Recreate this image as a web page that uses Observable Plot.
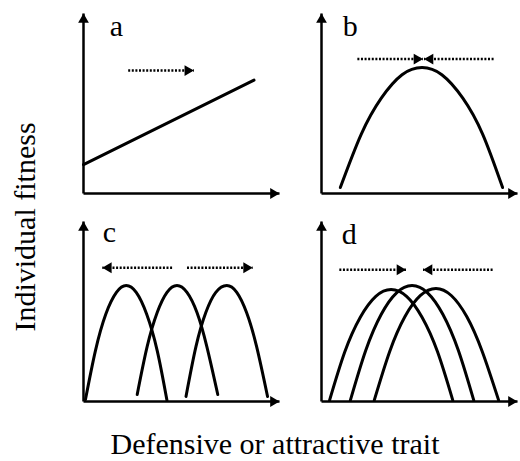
<!DOCTYPE html>
<html><head><meta charset="utf-8">
<script src="https://cdn.jsdelivr.net/npm/d3@7"></script>
<script src="https://cdn.jsdelivr.net/npm/@observablehq/plot@0.6"></script>
<style>body{margin:0;background:#fff}</style>
</head><body><div id="chart"></div>
<script>
// ---- data ----
const panels = ["a", "b", "c", "d"];
const panelCol = [0, 1, 0, 1];
const panelRow = [0, 0, 1, 1];
const labelX = [1.68, 1.47, 1.32, 1.42];
const labelY = [9.26, 9.31, 9.37, 9.31];
const xDomain = [0, 10];
const yDomain = [0, 10];
const xTitle = "Defensive or attractive trait";
const yTitle = "Individual fitness";

// panel a: straight line
const lineA = [[0, 1.6], [8.7, 6.3]];
// panel b: single hump
const curveB = [[0.96,0.33],[2.03,3.3],[3.05,5.3],[4.11,6.6],[5.13,7.0],[6.14,6.6],[7.21,5.3],[8.22,3.3],[9.24,0.33]];
// panel c: three separated humps
const curveC1 = [[0.10,0.11],[0.61,2.83],[1.14,4.86],[1.68,6.06],[2.18,6.44],[2.69,6.06],[3.22,4.86],[3.76,2.83],[4.26,0.05]];
const curveC2 = [[2.74,0.39],[3.25,3.06],[3.76,4.94],[4.26,6.06],[4.77,6.44],[5.28,6.06],[5.79,4.94],[6.29,3.06],[6.85,0.39]];
const curveC3 = [[5.23,0.28],[5.74,3.06],[6.24,4.94],[6.75,6.06],[7.31,6.44],[7.82,6.06],[8.32,4.94],[8.83,3.06],[9.39,0.28]];
// panel d: three overlapping humps
const curveD1 = [[0.41,0.06],[1.19,2.76],[1.98,4.68],[2.77,5.84],[3.55,6.22],[4.34,5.84],[5.13,4.68],[5.92,2.76],[6.70,0.06]];
const curveD2 = [[1.47,0.06],[2.26,2.85],[3.05,4.85],[3.83,6.04],[4.62,6.44],[5.41,6.04],[6.19,4.85],[6.98,2.85],[7.77,0.06]];
const curveD3 = [[2.69,0.06],[3.48,2.78],[4.26,4.72],[5.05,5.89],[5.84,6.28],[6.62,5.89],[7.41,4.72],[8.20,2.78],[9.04,0.06]];

// dotted arrows
const arrowPanel = ["a", "b", "b", "c", "c", "d", "d"];
const arrowFrom  = [2.28, 1.83, 8.78, 4.52, 5.28, 0.91, 8.73];
const arrowTo    = [5.63, 5.18, 5.23, 0.96, 8.63, 4.31, 5.18];
const arrowY     = [6.83, 7.47, 7.47, 7.43, 7.43, 7.32, 7.32];

// ---- tables ----
const panelInfo = panels.map((p, i) => ({panel: p, col: panelCol[i], row: panelRow[i], lx: labelX[i], ly: labelY[i],
  x0: xDomain[0], y0: yDomain[0], xe: xDomain[1], ye: yDomain[1]}));
const byPanel = Object.fromEntries(panelInfo.map(d => [d.panel, d]));
const curveRows = [];
function addCurve(panel, series, pts) {
  pts.forEach(([x, y]) => curveRows.push({panel, series, col: byPanel[panel].col, row: byPanel[panel].row, x, y}));
}
addCurve("a", "a0", lineA);
addCurve("b", "b0", curveB);
addCurve("c", "c1", curveC1); addCurve("c", "c2", curveC2); addCurve("c", "c3", curveC3);
addCurve("d", "d1", curveD1); addCurve("d", "d2", curveD2); addCurve("d", "d3", curveD3);
const arrowRows = arrowPanel.map((p, i) => ({panel: p, col: byPanel[p].col, row: byPanel[p].row,
  x1: arrowFrom[i], x2: arrowTo[i], y: arrowY[i], right: arrowTo[i] > arrowFrom[i]}));

const F = {fx: "col", fy: "row"};
const serif = "'Liberation Serif', 'Times New Roman', serif";

const svg = Plot.plot({
  width: 520, height: 461,
  marginLeft: 82.5, marginRight: 1.5, marginTop: 12.5, marginBottom: 60,
  style: {fontFamily: serif, background: "white", overflow: "visible"},
  fx: {domain: [0, 1], paddingInner: 0.1757, paddingOuter: 0, axis: null},
  fy: {domain: [0, 1], paddingInner: 0.137, paddingOuter: 0, axis: null},
  x: {domain: xDomain, axis: null},
  y: {domain: yDomain, axis: null},
  marks: [
    // axes
    Plot.link(panelInfo, {x1: "x0", y1: "y0", x2: "xe", y2: "y0", ...F, stroke: "black", strokeWidth: 2.5}),
    Plot.link(panelInfo, {x1: "x0", y1: "y0", x2: "x0", y2: "ye", ...F, stroke: "black", strokeWidth: 2.5}),
    Plot.dot(panelInfo, {x: "xe", y: "y0", ...F, symbol: "triangle", rotate: 90, r: 4, fill: "black", stroke: "none", dx: -6.2}),
    Plot.dot(panelInfo, {x: "x0", y: "ye", ...F, symbol: "triangle", rotate: 0, r: 4, fill: "black", stroke: "none", dy: 6.2}),
    // fitness curves
    Plot.line(curveRows, {x: "x", y: "y", z: "series", ...F, curve: "natural", stroke: "black", strokeWidth: 3}),
    // dotted selection arrows
    Plot.link(arrowRows, {x1: "x1", y1: "y", x2: "x2", y2: "y", ...F, stroke: "black", strokeWidth: 2.6, strokeDasharray: "2,1.6"}),
    Plot.dot(arrowRows.filter(d => d.right), {x: "x2", y: "y", ...F, symbol: "triangle", rotate: 90, r: 4, fill: "black", stroke: "none", dx: -6.2}),
    Plot.dot(arrowRows.filter(d => !d.right), {x: "x2", y: "y", ...F, symbol: "triangle", rotate: -90, r: 4, fill: "black", stroke: "none", dx: 6.2}),
    // panel letters
    Plot.text(panelInfo, {x: "lx", y: "ly", text: "panel", ...F, fontSize: 30, fontFamily: serif, fill: "black"})
  ]
});

const s = d3.select(svg);
s.append("text").attr("x", 275).attr("y", 454).attr("text-anchor", "middle")
  .attr("font-size", 30).attr("font-family", serif).attr("fill", "black").text(xTitle);
s.append("text").attr("transform", "translate(35,227) rotate(-90)").attr("text-anchor", "middle")
  .attr("font-size", 30).attr("font-family", serif).attr("fill", "black").text(yTitle);

document.getElementById("chart").appendChild(svg);
</script>
</body></html>
